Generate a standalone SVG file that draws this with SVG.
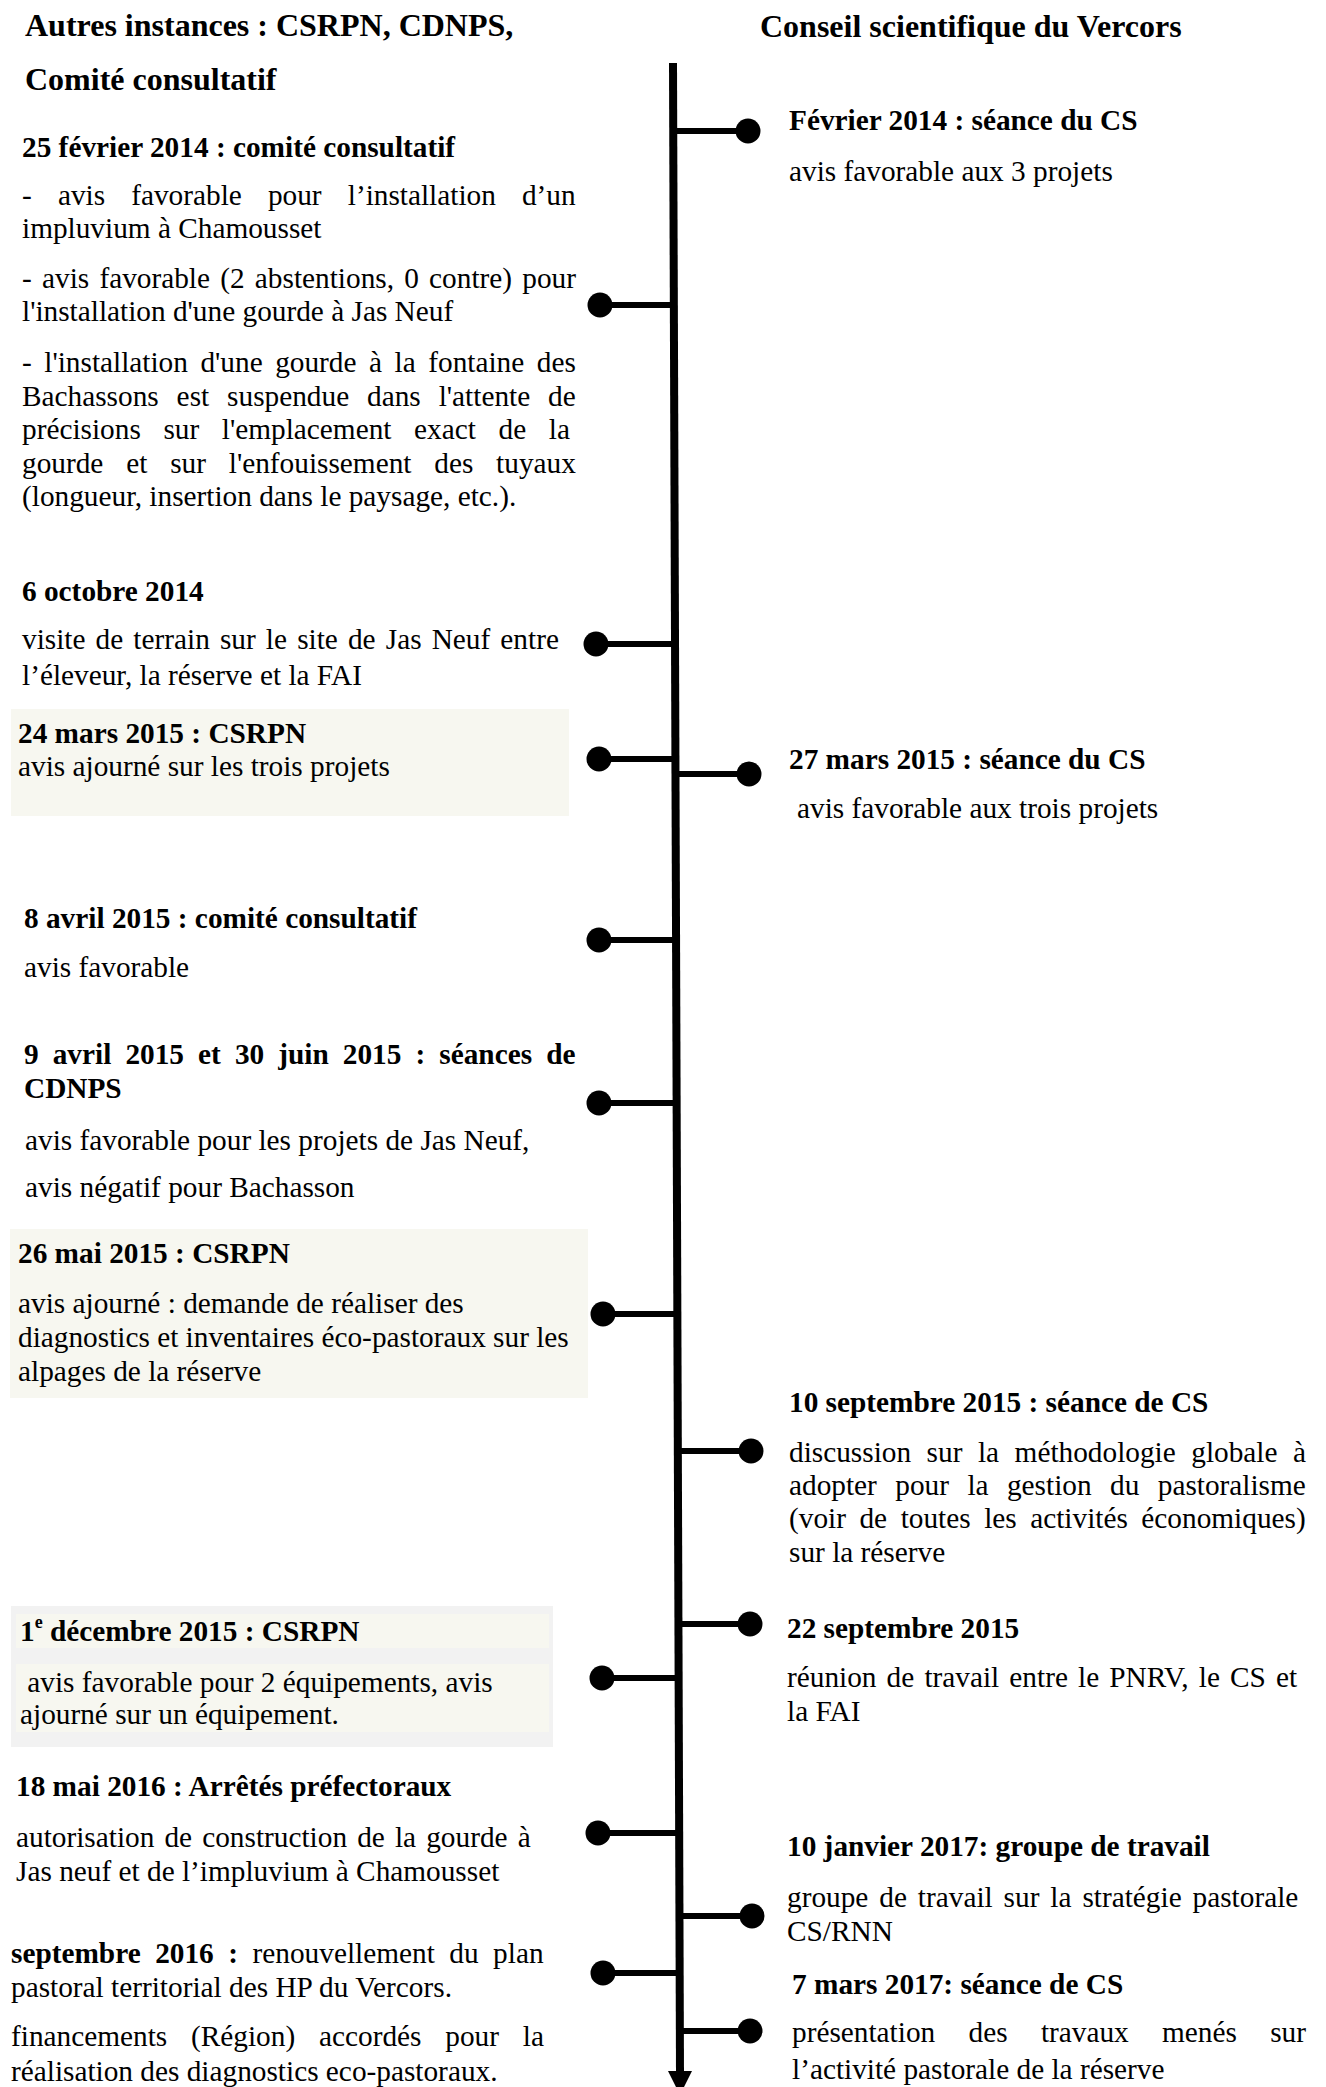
<svg xmlns="http://www.w3.org/2000/svg" width="1326" height="2087" viewBox="0 0 1326 2087">
<defs>
<style>
text{font-family:"Liberation Serif","Times New Roman",serif;font-size:29.3px;fill:#000}
.b{font-weight:bold}
.h{font-size:32px;font-weight:bold}
.cream{fill:#F7F7F0}
.grey{fill:#F2F2F2}
.axis{stroke:#000;stroke-width:8;fill:none}
.br{stroke:#000;stroke-width:6}
.dot{fill:#000}
</style>
</defs>
<rect width="1326" height="2087" fill="#fff"/>

<g id="connectors">
<line class="axis" x1="673" y1="63" x2="680" y2="2074"/>
<polygon points="668,2071 692,2071 680,2095" fill="#000"/>
<!-- right branches -->
<line class="br" x1="673" y1="131" x2="748" y2="131"/><circle class="dot" cx="748" cy="131" r="12.5"/>
<line class="br" x1="675" y1="774" x2="749" y2="774"/><circle class="dot" cx="749" cy="774" r="12.5"/>
<line class="br" x1="678" y1="1451" x2="751" y2="1451"/><circle class="dot" cx="751" cy="1451" r="12.5"/>
<line class="br" x1="678" y1="1624" x2="750" y2="1624"/><circle class="dot" cx="750" cy="1624" r="12.5"/>
<line class="br" x1="679" y1="1916" x2="752" y2="1916"/><circle class="dot" cx="752" cy="1916" r="12.5"/>
<line class="br" x1="680" y1="2031" x2="750" y2="2031"/><circle class="dot" cx="750" cy="2031" r="12.5"/>
<!-- left branches -->
<line class="br" x1="600" y1="305" x2="674" y2="305"/><circle class="dot" cx="600" cy="305" r="12.5"/>
<line class="br" x1="596" y1="644" x2="675" y2="644"/><circle class="dot" cx="596" cy="644" r="12.5"/>
<line class="br" x1="599" y1="759" x2="675" y2="759"/><circle class="dot" cx="599" cy="759" r="12.5"/>
<line class="br" x1="599" y1="940" x2="676" y2="940"/><circle class="dot" cx="599" cy="940" r="12.5"/>
<line class="br" x1="599" y1="1103" x2="677" y2="1103"/><circle class="dot" cx="599" cy="1103" r="12.5"/>
<line class="br" x1="603" y1="1314" x2="677" y2="1314"/><circle class="dot" cx="603" cy="1314" r="12.5"/>
<line class="br" x1="602" y1="1678" x2="679" y2="1678"/><circle class="dot" cx="602" cy="1678" r="12.5"/>
<line class="br" x1="598" y1="1833" x2="679" y2="1833"/><circle class="dot" cx="598" cy="1833" r="12.5"/>
<line class="br" x1="603" y1="1973" x2="680" y2="1973"/><circle class="dot" cx="603" cy="1973" r="12.5"/>
</g>

<g id="header-left">
<text class="h" x="25" y="36">Autres instances : CSRPN, CDNPS,</text>
<text class="h" x="25" y="90">Comité consultatif</text>
</g>
<g id="header-right">
<text class="h" x="760" y="37">Conseil scientifique du Vercors</text>
</g>

<g id="n-2014-02-25">
<text class="b" x="22" y="157">25 février 2014 : comité consultatif</text>
<text x="22" y="205" word-spacing="18.8">- avis favorable pour l’installation d’un</text>
<text x="22" y="238">impluvium à Chamousset</text>
<text x="22" y="288" word-spacing="2.9">- avis favorable (2 abstentions, 0 contre) pour</text>
<text x="22" y="321">l'installation d'une gourde à Jas Neuf</text>
<text x="22" y="372" word-spacing="5.2">- l'installation d'une gourde à la fontaine des</text>
<text x="22" y="405.6" word-spacing="10.6">Bachassons est suspendue dans l'attente de</text>
<text x="22" y="439.2" word-spacing="15.3">précisions sur l'emplacement exact de la</text>
<text x="22" y="472.8" word-spacing="15.5">gourde et sur l'enfouissement des tuyaux</text>
<text x="22" y="506.4">(longueur, insertion dans le paysage, etc.).</text>
</g>

<g id="n-2014-10-06">
<text class="b" x="22" y="601">6 octobre 2014</text>
<text x="22" y="649" word-spacing="2.8">visite de terrain sur le site de Jas Neuf entre</text>
<text x="22" y="685">l’éleveur, la réserve et la FAI</text>
</g>

<g id="n-2015-03-24">
<rect class="cream" x="11" y="709" width="558" height="107"/>
<text class="b" x="18" y="743">24 mars 2015 : CSRPN</text>
<text x="18" y="776">avis ajourné sur les trois projets</text>
</g>

<g id="n-2015-04-08">
<text class="b" x="24" y="928">8 avril 2015 : comité consultatif</text>
<text x="24" y="977">avis favorable</text>
</g>

<g id="n-2015-cdnps">
<text class="b" x="24" y="1064" word-spacing="6.75">9 avril 2015 et 30 juin 2015 : séances de</text>
<text class="b" x="24" y="1098">CDNPS</text>
<text x="25" y="1150">avis favorable pour les projets de Jas Neuf,</text>
<text x="25" y="1197">avis négatif pour Bachasson</text>
</g>

<g id="n-2015-05-26">
<rect class="cream" x="10" y="1229" width="578" height="169"/>
<text class="b" x="18" y="1263">26 mai 2015 : CSRPN</text>
<text x="18" y="1313">avis ajourné : demande de réaliser des</text>
<text x="18" y="1347">diagnostics et inventaires éco-pastoraux sur les</text>
<text x="18" y="1381">alpages de la réserve</text>
</g>

<g id="n-2015-12-01">
<rect class="grey" x="11" y="1606" width="542" height="141"/>
<rect class="cream" x="16" y="1614" width="533" height="34"/>
<rect class="cream" x="16" y="1664" width="533" height="68"/>
<text class="b" x="20" y="1641">1<tspan font-size="18" dy="-13">e</tspan><tspan dy="13"> décembre 2015 : CSRPN</tspan></text>
<text x="20" y="1692" xml:space="preserve"> avis favorable pour 2 équipements, avis</text>
<text x="20" y="1724">ajourné sur un équipement.</text>
</g>

<g id="n-2016-05-18">
<text class="b" x="16" y="1796">18 mai 2016 : Arrêtés préfectoraux</text>
<text x="16" y="1847" word-spacing="2.8">autorisation de construction de la gourde à</text>
<text x="16" y="1881">Jas neuf et de l’impluvium à Chamousset</text>
</g>

<g id="n-2016-09">
<text x="11" y="1963" word-spacing="7.2"><tspan class="b">septembre 2016 :</tspan> renouvellement du plan</text>
<text x="11" y="1997">pastoral territorial des HP du Vercors.</text>
<text x="11" y="2046" word-spacing="16.5">financements (Région) accordés pour la</text>
<text x="11" y="2081">réalisation des diagnostics eco-pastoraux.</text>
</g>

<g id="n-cs-2014-02">
<text class="b" x="789" y="130">Février 2014 : séance du CS</text>
<text x="789" y="181">avis favorable aux 3 projets</text>
</g>

<g id="n-cs-2015-03-27">
<text class="b" x="789" y="769">27 mars 2015 : séance du CS</text>
<text x="797" y="818">avis favorable aux trois projets</text>
</g>

<g id="n-cs-2015-09-10">
<text class="b" x="789" y="1412">10 septembre 2015 : séance de CS</text>
<text x="789" y="1462" word-spacing="8.2">discussion sur la méthodologie globale à</text>
<text x="789" y="1495" word-spacing="11.1">adopter pour la gestion du pastoralisme</text>
<text x="789" y="1528" word-spacing="6.2">(voir de toutes les activités économiques)</text>
<text x="789" y="1562">sur la réserve</text>
</g>

<g id="n-cs-2015-09-22">
<text class="b" x="787" y="1638">22 septembre 2015</text>
<text x="787" y="1687" word-spacing="2.8">réunion de travail entre le PNRV, le CS et</text>
<text x="787" y="1721">la FAI</text>
</g>

<g id="n-cs-2017-01-10">
<text class="b" x="787" y="1856">10 janvier 2017: groupe de travail</text>
<text x="787" y="1907" word-spacing="3.6">groupe de travail sur la stratégie pastorale</text>
<text x="787" y="1941">CS/RNN</text>
</g>

<g id="n-cs-2017-03-07">
<text class="b" x="792" y="1994">7 mars 2017: séance de CS</text>
<text x="792" y="2042" word-spacing="26">présentation des travaux menés sur</text>
<text x="792" y="2079">l’activité pastorale de la réserve</text>
</g>
</svg>
